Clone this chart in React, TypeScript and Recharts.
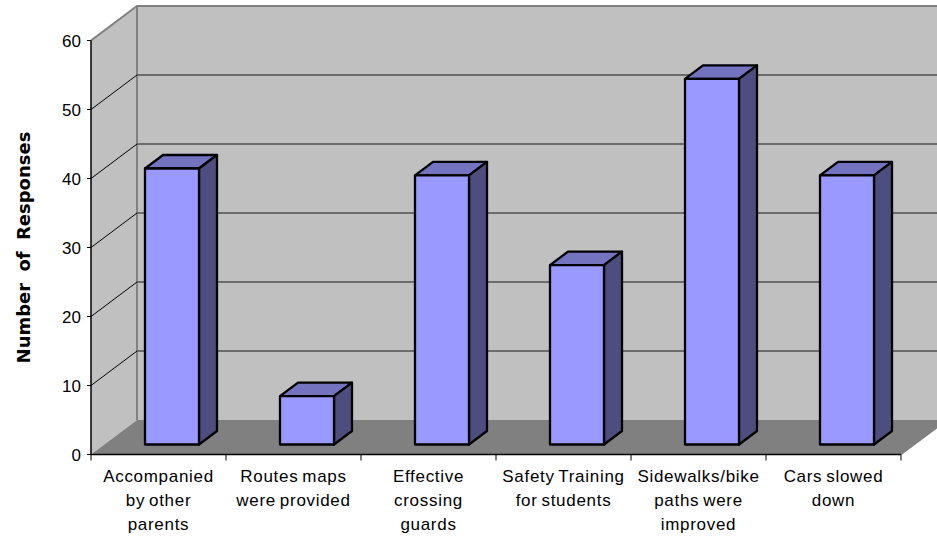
import React from "react";
import { BarChart, Bar, XAxis, YAxis, ReferenceArea } from "recharts";

const categories = [
  "Accompanied|by other|parents",
  "Routes maps|were provided",
  "Effective|crossing|guards",
  "Safety Training|for students",
  "Sidewalks/bike|paths were|improved",
  "Cars slowed|down",
];
const responses = [40, 7, 39, 26, 53, 39];
const yTicks = [0, 10, 20, 30, 40, 50, 60];
const innerGridTicks = [10, 20, 30, 40, 50];

const rows = categories.map((name, i) => ({ name, responses: responses[i] }));

// Perspective offsets of the 3D box
const WALL_DX = 46;
const WALL_DY = 34.5;
const BAR_SHIFT_X = 13.5;
const BAR_SHIFT_Y = 10;
const BAR_DX = 18;
const BAR_DY = 13.5;

const FONT = "'Liberation Sans', Arial, sans-serif";

function Walls(props: any) {
  const { x, y, width, height } = props;
  const b = y + height;
  const r = x + width;
  return (
    <g>
      <polygon points={`${x},${y} ${x + WALL_DX},${y - WALL_DY} ${x + WALL_DX},${b - WALL_DY} ${x},${b}`} fill="#c0c0c0" />
      <rect x={x + WALL_DX} y={y - WALL_DY} width={width} height={height} fill="#c0c0c0" />
      <polygon points={`${x},${b} ${x + WALL_DX},${b - WALL_DY} ${r + WALL_DX},${b - WALL_DY} ${r},${b}`} fill="#808080" />
      <polyline points={`${x},${y} ${x + WALL_DX},${y - WALL_DY} ${r + WALL_DX},${y - WALL_DY}`} fill="none" stroke="#808080" strokeWidth={2} />
      <line x1={x + WALL_DX} y1={y - WALL_DY} x2={x + WALL_DX} y2={b - WALL_DY} stroke="#808080" strokeWidth={2} />
      <line x1={r} y1={b} x2={r + WALL_DX} y2={b - WALL_DY} stroke="#808080" strokeWidth={1.5} />
    </g>
  );
}

// The area spans one tick step; its upper edge is the value line,
// which runs up the side wall and then along the back wall
function WallGridLine(props: any) {
  const { x, y, width } = props;
  return (
    <g>
      <line x1={x} y1={y} x2={x + WALL_DX} y2={y - WALL_DY} stroke="#000" strokeWidth={1} />
      <line x1={x + WALL_DX} y1={y - WALL_DY} x2={x + width + WALL_DX} y2={y - WALL_DY} stroke="#505050" strokeWidth={1.5} />
    </g>
  );
}

function Box(props: any) {
  const { x, y, width, height } = props;
  const fx = x + BAR_SHIFT_X;
  const fy = y - BAR_SHIFT_Y;
  const common = { stroke: "#000", strokeWidth: 2.3, strokeLinejoin: "round" as const };
  return (
    <g>
      <polygon
        points={`${fx},${fy} ${fx + BAR_DX},${fy - BAR_DY} ${fx + width + BAR_DX},${fy - BAR_DY} ${fx + width},${fy}`}
        fill="#7373bf"
        {...common}
      />
      <polygon
        points={`${fx + width},${fy} ${fx + width + BAR_DX},${fy - BAR_DY} ${fx + width + BAR_DX},${fy + height - BAR_DY} ${fx + width},${fy + height}`}
        fill="#4d4d80"
        {...common}
      />
      <rect x={fx} y={fy} width={width} height={height} fill="#9999ff" {...common} />
    </g>
  );
}

function CategoryTick(props: any) {
  const { x, y, payload, width, visibleTicksCount, index } = props;
  const band = width / visibleTicksCount;
  const lines = String(payload.value).split("|");
  return (
    <g>
      <line x1={x - band / 2} y1={y - 8} x2={x - band / 2} y2={y - 2} stroke="#000" strokeWidth={1} />
      {index === visibleTicksCount - 1 && (
        <line x1={x + band / 2} y1={y - 8} x2={x + band / 2} y2={y - 2} stroke="#000" strokeWidth={1} />
      )}
      <text
        x={x}
        y={y}
        textAnchor="middle"
        fontFamily={FONT}
        fontSize={17}
        letterSpacing={0.7}
        wordSpacing={-1.5}
        fill="#000"
      >
        {lines.map((line, i) => (
          <tspan key={i} x={x} y={y + 19.5 + i * 24}>
            {line}
          </tspan>
        ))}
      </text>
    </g>
  );
}

export default function App() {
  return (
    <div style={{ position: "absolute", left: 0, top: 0, width: 937, height: 537 }}>
      <BarChart
        width={937}
        height={537}
        data={rows}
        barCategoryGap="30%"
        margin={{ top: 40.5, right: 36, bottom: 0, left: 0 }}
        style={{ background: "#fff" }}
      >
        <ReferenceArea y1={0} y2={60} shape={<Walls />} ifOverflow="visible" />
        {innerGridTicks.map((t) => (
          <ReferenceArea key={t} y1={t - 10} y2={t} shape={<WallGridLine />} ifOverflow="visible" />
        ))}
        <XAxis
          dataKey="name"
          interval={0}
          height={82.5}
          tick={<CategoryTick />}
          tickLine={false}
          axisLine={{ stroke: "#000", strokeWidth: 1.5 }}
        />
        <YAxis
          width={91}
          domain={[0, 60]}
          ticks={yTicks}
          interval={0}
          tickSize={4}
          tickMargin={6}
          tick={{ fontFamily: FONT, fontSize: 17, fill: "#000" }}
          tickLine={{ stroke: "#000" }}
          axisLine={{ stroke: "#000", strokeWidth: 1.5 }}
          label={{
            value: "Number of Responses",
            angle: -90,
            position: "insideLeft",
            offset: 24,
            style: {
              textAnchor: "middle",
              fontFamily: "'DejaVu Sans', sans-serif",
              fontWeight: 700,
              fontSize: 18,
              wordSpacing: 5,
              fill: "#000",
            },
          }}
        />
        <Bar dataKey="responses" shape={<Box />} isAnimationActive={false} />
      </BarChart>
    </div>
  );
}
